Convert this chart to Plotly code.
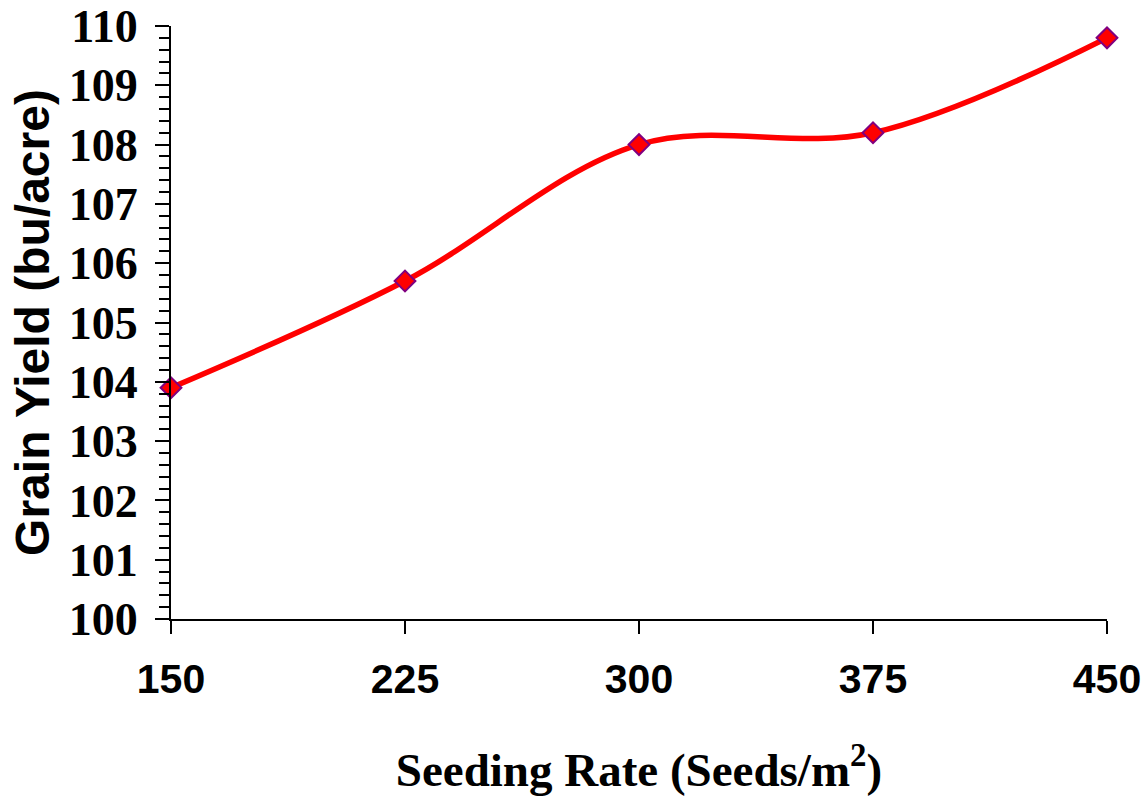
import plotly.graph_objects as go

seeding_rate = [150, 225, 300, 375, 450]
grain_yield = [103.9, 105.7, 108.0, 108.2, 109.8]
x_tick_vals = [150, 225, 300, 375, 450]
x_tick_text = ["150", "225", "300", "375", "450"]

fig = go.Figure()
fig.add_trace(go.Scatter(
    x=seeding_rate, y=grain_yield,
    mode="lines+markers",
    line=dict(color="#FF0000", width=5.5, shape="spline", smoothing=1.0),
    marker=dict(symbol="diamond", size=16, color="#FF0000",
                line=dict(color="#800080", width=2)),
    cliponaxis=False,
    showlegend=False,
))

fig.update_layout(
    width=1145, height=804,
    margin=dict(l=171, r=38, t=26, b=185, autoexpand=False),
    paper_bgcolor="white", plot_bgcolor="white",
)

fig.update_xaxes(
    range=[150, 450],
    tickvals=x_tick_vals, ticktext=x_tick_text,
    showgrid=False, zeroline=False,
    showline=True, linecolor="black", linewidth=2,
    ticks="outside", ticklen=13, tickwidth=2, tickcolor="black",
    ticklabelstandoff=10,
    tickfont=dict(family="Liberation Sans", size=41, color="black", weight="bold"),
    title=dict(text="Seeding Rate (Seeds/m<sup>2</sup>)",
               font=dict(family="Liberation Serif", size=47, color="black", weight="bold"),
               standoff=52),
    automargin=False,
)

fig.update_yaxes(
    range=[100, 110], dtick=1,
    showgrid=False, zeroline=False,
    showline=True, linecolor="black", linewidth=2,
    ticks="outside", ticklen=14, tickwidth=2, tickcolor="black",
    ticklabelstandoff=8,
    minor=dict(dtick=0.2, ticks="outside", ticklen=10, tickwidth=2, tickcolor="black", showgrid=False),
    tickfont=dict(family="Liberation Serif", size=46, color="black", weight="bold"),
    title=dict(text="Grain Yield (bu/acre)",
               font=dict(family="Liberation Sans", size=48, color="black", weight="bold"),
               standoff=4),
    automargin=False,
)

fig.write_html("out.html")
